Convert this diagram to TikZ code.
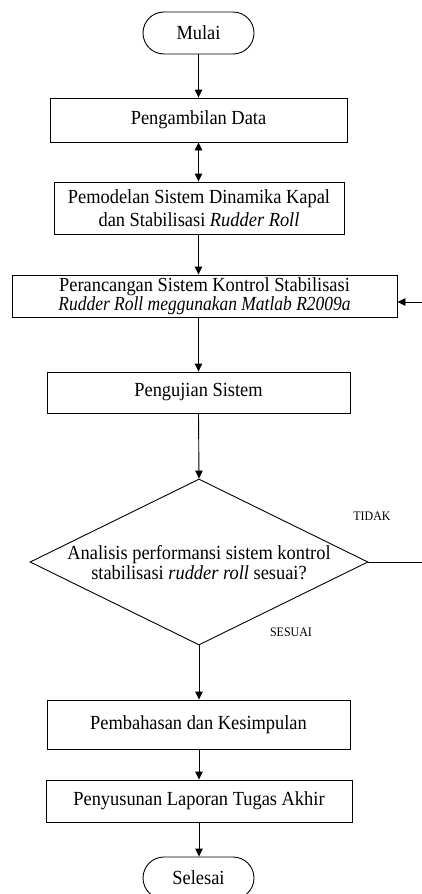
\documentclass[tikz,border=0pt]{standalone}
\usepackage{fontspec}
\setmainfont{Liberation Serif}[FakeStretch=0.92]
\usetikzlibrary{arrows.meta,shapes.geometric}

\begin{document}
\begin{tikzpicture}[x=1pt,y=-1pt,
  line width=0.9pt,
  font=\fontsize{20}{22}\selectfont,
  arr/.style={-{Triangle[length=8pt,width=7.5pt]}},
  darr/.style={{Triangle[length=8pt,width=7.5pt]}-{Triangle[length=8pt,width=7.5pt]}},
  terminal/.style={draw, rectangle, rounded corners=21pt, minimum width=111pt, minimum height=42pt, inner sep=0pt},
  procbox/.style={draw, rectangle, inner sep=0pt, align=center},
  lbl/.style={font=\fontsize{13}{15}\selectfont}
]
\useasboundingbox (0,0) rectangle (421,894);

% start / end terminals
\node[terminal] (mulai) at (198.5,33) {Mulai};
\node[terminal] (selesai) at (198.5,878) {Selesai};

% process steps
\node[procbox, minimum width=297pt, minimum height=44pt] (data) at (198.5,120) {Pengambilan Data};
\node[procbox, minimum width=290pt, minimum height=52pt, font=\fontsize{20}{22.5}\selectfont] (model) at (199,208)
  {Pemodelan Sistem Dinamika Kapal\\dan Stabilisasi \textit{Rudder Roll}};
\node[procbox, minimum width=385pt, minimum height=42pt, font=\fontsize{20}{18.5}\selectfont] (design) at (204.5,296)
  {Perancangan Sistem Kontrol Stabilisasi\\\scalebox{0.95}[1]{\textit{Rudder Roll meggunakan Matlab R2009a}}};
\node[procbox, minimum width=303pt, minimum height=41pt] (test) at (198.5,392.5) {Pengujian Sistem};

% decision
\node[draw, diamond, minimum width=338pt, minimum height=166pt, inner sep=0pt] (dec) at (199,562) {};
\node[align=center, font=\fontsize{20}{20}\selectfont] (dectext) at (199,563)
  {Analisis performansi sistem kontrol\\stabilisasi \textit{rudder roll} sesuai?};
\node[lbl] (tidak) at (372,516) {TIDAK};
\node[lbl] (sesuai) at (291,632) {SESUAI};

\node[procbox, minimum width=303pt, minimum height=49pt] (bahas) at (198.5,724.5) {Pembahasan dan Kesimpulan};
\node[procbox, minimum width=306pt, minimum height=42pt] (lapor) at (199,801) {Penyusunan Laporan Tugas Akhir};

% main flow
\draw[arr] (mulai.south) -- (mulai.south |- data.north);
\draw[darr] (mulai.south |- data.south) -- (mulai.south |- model.north);
\draw[arr] (mulai.south |- model.south) -- (mulai.south |- design.north);
\draw[arr] (mulai.south |- design.south) -- (mulai.south |- test.north);
\draw[arr] (mulai.south |- test.south) -- (dec.north);
\draw[arr] (dec.south) -- (dec.south |- bahas.north);
\draw[arr] (dec.south |- bahas.south) -- (dec.south |- lapor.north);
\draw[arr] (dec.south |- lapor.south) -- (dec.south |- selesai.north);

% feedback loop back to the design step
\coordinate (loopdown) at (422,562);
\coordinate (loopup) at (422,302);
\coordinate (designin) at (design.east |- loopup);
\draw[arr] (dec.east) -- (loopdown) -- (loopup) -- (designin);
\end{tikzpicture}
\end{document}
